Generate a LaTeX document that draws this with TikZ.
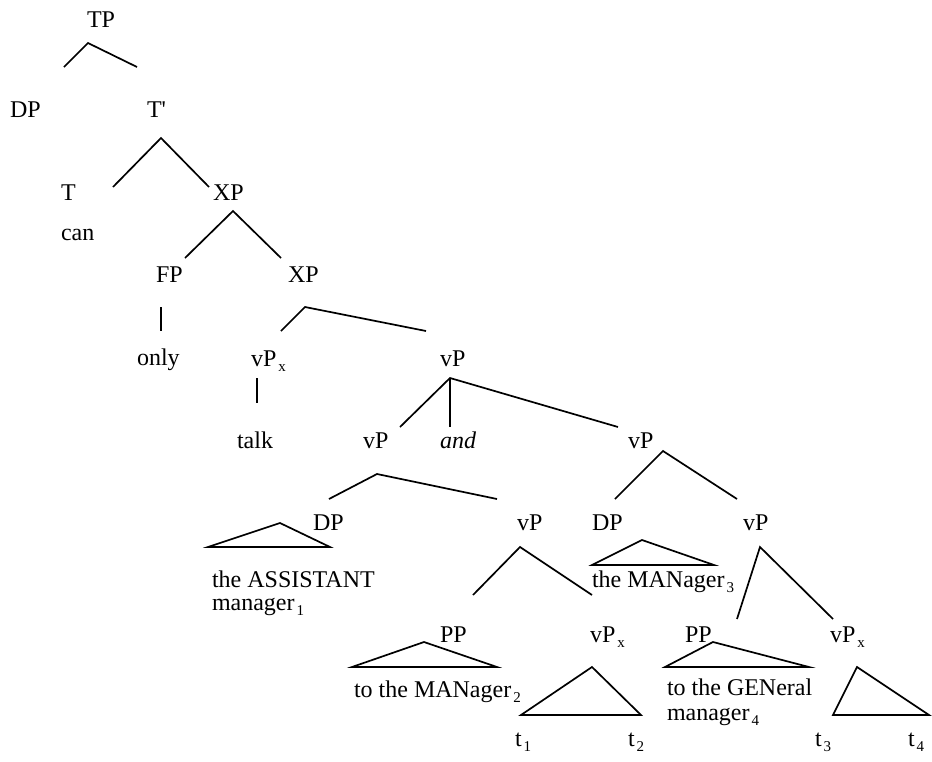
\documentclass[tikz,border=0pt]{standalone}
\usepackage{fontspec}
\setmainfont{Liberation Serif}
\newcommand\lowsub[1]{\kern2pt\raisebox{-5pt}{\fontsize{15}{15}\selectfont #1}}
\tikzset{
  lbl/.style={anchor=base west, inner sep=0pt, outer sep=0pt,
    font=\fontsize{24}{24}\selectfont},
  branch/.style={line width=1.7pt, line join=miter},
  roof/.style={line width=1.7pt, line join=miter}
}
\begin{document}
\begin{tikzpicture}[x=1pt,y=-1pt]
\useasboundingbox (0,0) rectangle (932,761);

% category labels and words
\node[lbl] (tp)   at (87,27)   {TP};
\node[lbl] (dp0)  at (10,117)  {DP};
\node[lbl] (tbar) at (147,117) {T\textquotesingle};
\node[lbl] (t)    at (61,200)  {T};
\node[lbl] (xp1)  at (213,200) {XP};
\node[lbl] (can)  at (61,240)  {can};
\node[lbl] (fp)   at (156,282) {FP};
\node[lbl] (xp2)  at (288,282) {XP};
\node[lbl] (only) at (137,365) {only};
\node[lbl] (vpx0) at (251,366) {vP\lowsub{x}};
\node[lbl] (vp0)  at (440,366) {vP};
\node[lbl] (talk) at (237,448) {talk};
\node[lbl] (vpa)  at (363,448) {vP};
\node[lbl] (and)  at (440,448) {\itshape and};
\node[lbl] (vpb)  at (628,448) {vP};
\node[lbl] (dpa)  at (313,530) {DP};
\node[lbl] (vpa1) at (517,530) {vP};
\node[lbl] (dpb)  at (592,530) {DP};
\node[lbl] (vpb1) at (743,530) {vP};
\node[lbl] (ass1) at (212,587) {the ASSISTANT};
\node[lbl] (ass2) at (212,610) {manager\lowsub{1}};
\node[lbl] (man3) at (592,587) {the MANager\lowsub{3}};
\node[lbl] (ppa)  at (440,642) {PP};
\node[lbl] (vpxa) at (590,642) {vP\lowsub{x}};
\node[lbl] (ppb)  at (685,642) {PP};
\node[lbl] (vpxb) at (830,642) {vP\lowsub{x}};
\node[lbl] (man2) at (354,697) {to the MANager\lowsub{2}};
\node[lbl] (gen1) at (667,695) {to the GENeral};
\node[lbl] (gen2) at (667,720) {manager\lowsub{4}};
\node[lbl] (t1)   at (515,746) {t\lowsub{1}};
\node[lbl] (t2)   at (628,746) {t\lowsub{2}};
\node[lbl] (t3)   at (815,746) {t\lowsub{3}};
\node[lbl] (t4)   at (908,746) {t\lowsub{4}};

% branch points
\coordinate (tpA)  at (88,43);   \coordinate (tpL) at (64,67);   \coordinate (tpR) at (137,67);
\coordinate (tbA)  at (161,138); \coordinate (tbL) at (113,187); \coordinate (tbR) at (209,187);
\coordinate (x1A)  at (233,211); \coordinate (x1L) at (185,258); \coordinate (x1R) at (281,258);
\coordinate (fpT)  at (161,307); \coordinate (fpB) at (161,331);
\coordinate (x2A)  at (305,307); \coordinate (x2L) at (281,331); \coordinate (x2R) at (426,331);
\coordinate (vxT)  at (257,378); \coordinate (vxB) at (257,403);
\coordinate (v0A)  at (450,378); \coordinate (v0L) at (400,427); \coordinate (v0M) at (450,427);
\coordinate (v0R)  at (618,427);
\coordinate (vaA)  at (377,474); \coordinate (vaL) at (329,499); \coordinate (vaR) at (497,499);
\coordinate (va1A) at (520,547); \coordinate (va1L) at (473,595); \coordinate (va1R) at (592,595);
\coordinate (vbA)  at (663,451); \coordinate (vbL) at (615,499); \coordinate (vbR) at (737,499);
\coordinate (vb1A) at (760,547); \coordinate (vb1L) at (737,619); \coordinate (vb1R) at (833,619);

% branches
\draw[branch] (tpL) -- (tpA) -- (tpR);
\draw[branch] (tbL) -- (tbA) -- (tbR);
\draw[branch] (x1L) -- (x1A) -- (x1R);
\draw[branch] (fpT) -- (fpB);
\draw[branch] (x2L) -- (x2A) -- (x2R);
\draw[branch] (vxT) -- (vxB);
\draw[branch] (v0L) -- (v0A) -- (v0R);
\draw[branch] (v0A) -- (v0M);
\draw[branch] (vaL) -- (vaA) -- (vaR);
\draw[branch] (va1L) -- (va1A) -- (va1R);
\draw[branch] (vbL) -- (vbA) -- (vbR);
\draw[branch] (vb1L) -- (vb1A) -- (vb1R);

% roofs over unanalysed constituents
\coordinate (r1A) at (280,523); \coordinate (r1L) at (208,547); \coordinate (r1R) at (330,547);
\coordinate (r2A) at (424,642); \coordinate (r2L) at (352,667); \coordinate (r2R) at (497,667);
\coordinate (r3A) at (592,667); \coordinate (r3L) at (521,715); \coordinate (r3R) at (641,715);
\coordinate (r4A) at (642,540); \coordinate (r4L) at (592,565); \coordinate (r4R) at (714,565);
\coordinate (r5A) at (713,642); \coordinate (r5L) at (665,667); \coordinate (r5R) at (809,667);
\coordinate (r6A) at (857,667); \coordinate (r6L) at (833,715); \coordinate (r6R) at (929,715);
\foreach \r in {r1,r2,r3,r4,r5,r6}
  \draw[roof] (\r L) -- (\r A) -- (\r R) -- cycle;
\end{tikzpicture}
\end{document}
